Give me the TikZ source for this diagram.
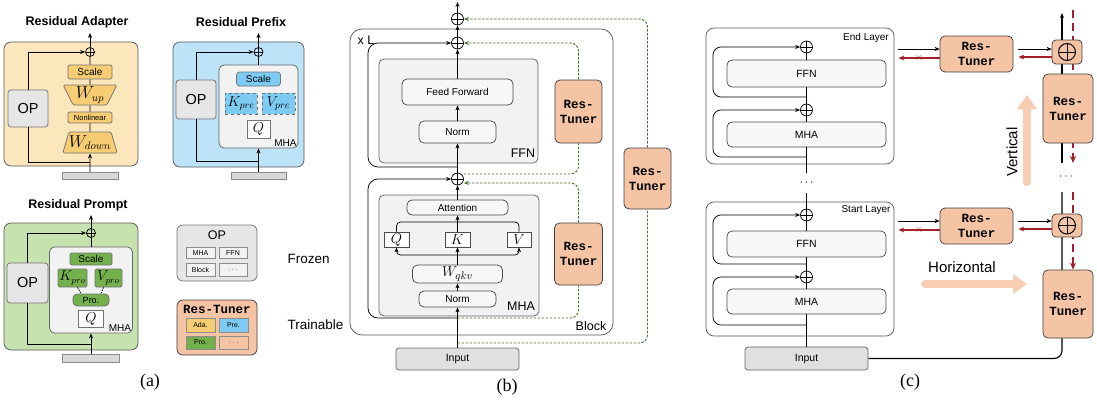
\documentclass[tikz,border=0pt]{standalone}
\usepackage{fontspec}
\setmainfont{Liberation Sans}
\setmonofont{Liberation Mono}
\newfontfamily\capfont{Liberation Serif}
\usepackage{xcolor}
\usetikzlibrary{arrows.meta,shapes.geometric,calc}

\definecolor{adafill}{HTML}{FCE7BD}
\definecolor{adadark}{HTML}{F6CD72}
\definecolor{prefill}{HTML}{BDE3F8}
\definecolor{predark}{HTML}{7DCBF2}
\definecolor{profill}{HTML}{C6E2AF}
\definecolor{prodark}{HTML}{74B04C}
\definecolor{frozen}{HTML}{E6E6E6}
\definecolor{tuner}{HTML}{F5C4A4}
\definecolor{backred}{HTML}{A3202A}
\definecolor{skipgreen}{HTML}{4F6F2F}
\definecolor{bigarrow}{HTML}{F7CDB3}

\newcommand{\fsz}[1]{\fontsize{#1}{#1}\selectfont}

\pgfdeclarelayer{back}
\pgfsetlayers{back,main}

\begin{document}
\begin{tikzpicture}[x=1pt, y=-1pt, line width=0.75pt,
  wh/.style 2 args={minimum width=#1, minimum height=#2},
  arr/.style={-{Stealth[length=5pt,width=4pt]}},
  addop/.style={circle, draw, inner sep=0pt, minimum size=#1,
    path picture={\draw[line width=0.6pt] (path picture bounding box.north) -- (path picture bounding box.south)
      (path picture bounding box.west) -- (path picture bounding box.east);}},
  ttl/.style={font=\fsz{12.5}\bfseries},
  panel/.style={draw=black!65, rounded corners=7pt, inner sep=0pt},
  opbox/.style={draw=black!55, fill=frozen, rounded corners=3pt, inner sep=0pt, font=\fsz{14.5}},
  graybox/.style={draw=black!60, fill=black!5, rounded corners=5pt, inner sep=0pt},
  yel/.style={draw=black!55, fill=adadark, rounded corners=1.5pt, inner sep=0pt},
  blu/.style={draw=black!55, fill=predark, rounded corners=3pt, inner sep=0pt},
  grn/.style={draw=black!55, fill=prodark, rounded corners=1.5pt, inner sep=0pt},
  qbox/.style={draw=black!55, fill=white, inner sep=0pt, font=\fsz{14.5}},
  inbar/.style={draw=black!45, fill=black!15, inner sep=0pt},
  sm/.style={draw=black!45, inner sep=0pt, font=\fsz{7}},
  lyr/.style={draw=black!70, fill=black!3, rounded corners=5pt, inner sep=0pt, font=\fsz{10}},
  mathbox/.style={draw=black!70, fill=white, inner sep=0pt, font=\fsz{15}},
  inbox/.style={draw=black!60, fill=black!12, rounded corners=3pt, inner sep=0pt, font=\fsz{10.5}},
  tunebox/.style={draw=black!75, fill=tuner, rounded corners=5pt, align=center, inner sep=0pt,
    font={\fontsize{12.5}{15}\selectfont\ttfamily\bfseries}},
  lbl/.style={font=\fsz{12.5}, inner sep=0pt},
  captxt/.style={font=\capfont\fsz{18}},
  skipln/.style={draw=skipgreen, line width=0.9pt, dash pattern=on 2.5pt off 1.5pt, rounded corners=8pt},
  redln/.style={draw=backred, line width=1.3pt, dash pattern=on 8pt off 5pt, -{Stealth[length=7pt,width=6pt]}},
  redarr/.style={draw=backred, line width=1.1pt, -{Stealth[length=6pt,width=5pt]}},
  fat/.style={draw=bigarrow, line width=8pt, line cap=round, -{Triangle[width=19pt,length=14pt]}}]
\useasboundingbox (0,0) rectangle (1097,400);

% (a) residual adapter
\node[ttl] (tA) at (77,22) {Residual Adapter};
\node[panel, fill=adafill, wh={134}{124}] (bgA) at (71,104) {};
\node[opbox, wh={40}{37}] (opA) at (28,108.5) {OP};
\node[addop=9] (plA) at (90,52) {};
\node[yel, wh={44}{14}, font=\fsz{10}] (scA) at (90,72) {Scale};
\node[yel, trapezium, shape border rotate=180, trapezium angle=63, trapezium stretches=true,
  wh={54}{20}, font=\fsz{16}] (upA) at (90,95) {$W_{up}$};
\node[yel, wh={44}{11}, font=\fsz{7.5}] (nlA) at (90,117.5) {Nonlinear};
\node[yel, trapezium, trapezium angle=67, trapezium stretches=true,
  wh={54}{21}, font=\fsz{16}] (dnA) at (90,142.5) {$W_{down}$};
\node[inbar, wh={56}{7}] (inA) at (90,176) {};
\coordinate (brA) at (90,162);
\coordinate (oA) at (90,33);
\draw[arr] (inA) -- (dnA);
\draw (dnA) -- (nlA) (nlA) -- (upA) (upA) -- (scA) (scA) -- (plA);
\draw[arr] (plA) -- (oA);
\draw (brA) -| (opA);
\draw[arr] (opA) |- (plA);

% (a) residual prefix
\node[ttl] (tP) at (241,22) {Residual Prefix};
\node[panel, fill=prefill, wh={131}{125}] (bgP) at (238.5,104.5) {};
\node[opbox, wh={40}{39}] (opP) at (196,99.5) {OP};
\node[graybox, wh={79}{83}] (mhP) at (258.5,106.5) {};
\node[font=\fsz{10}, anchor=south east, inner sep=1.5pt] (lmP) at (mhP.south east) {MHA};
\node[blu, wh={44}{14}, font=\fsz{10}] (scP) at (258.5,79) {Scale};
\node[blu, dashed, rounded corners=0pt, wh={32}{21}, font=\fsz{14.5}] (kP) at (241,103.5) {$K_{pre}$};
\node[blu, dashed, rounded corners=0pt, wh={33}{21}, font=\fsz{14.5}] (vP) at (278.5,103.5) {$V_{pre}$};
\node[qbox, wh={23}{18}] (qP) at (258.5,129) {$Q$};
\node[addop=9] (plP) at (258.5,52) {};
\node[inbar, wh={55}{7}] (inP) at (258.5,176) {};
\coordinate (brP) at (258.5,161);
\coordinate (oP) at (258.5,33);
\draw[arr] (inP) -- (mhP);
\draw (mhP) -- (plP);
\draw[arr] (plP) -- (oP);
\draw (brP) -| (opP);
\draw[arr] (opP) |- (plP);

% (a) residual prompt
\node[ttl] (tR) at (78,205) {Residual Prompt};
\node[panel, fill=profill, wh={134}{127}] (bgR) at (71,286.5) {};
\node[opbox, wh={41}{40}] (opR) at (27.5,283) {OP};
\node[graybox, wh={83}{86}] (mhR) at (91,290) {};
\node[font=\fsz{10}, anchor=south east, inner sep=1.5pt] (lmR) at (mhR.south east) {MHA};
\node[grn, wh={42}{12}, font=\fsz{10}] (scR) at (91,259) {Scale};
\node[grn, wh={29}{18}, font=\fsz{13.5}] (kR) at (72.5,278) {$K_{pro}$};
\node[grn, wh={27}{18}, font=\fsz{13.5}] (vR) at (108.5,278) {$V_{pro}$};
\node[grn, rounded corners=4pt, wh={36}{12}, font=\fsz{9}] (prR) at (91,300) {Pro.};
\node[qbox, wh={25}{17}] (qR) at (91,318.5) {$Q$};
\node[addop=9] (plR) at (91,233) {};
\node[inbar, wh={57}{8}] (inR) at (91,358) {};
\coordinate (brR) at (91,344);
\coordinate (oR) at (91,215);
\draw[dash pattern=on 1.5pt off 1pt] ([xshift=5pt]kR.south) -- ([xshift=-10pt]prR.north);
\draw[dash pattern=on 1.5pt off 1pt] ([xshift=-5pt]vR.south) -- ([xshift=10pt]prR.north);
\draw[arr] (inR) -- (mhR);
\draw (mhR) -- (plR);
\draw[arr] (plR) -- (oR);
\draw (brR) -| (opR);
\draw[arr] (opR) |- (plR);

% (a) legend
\node[opbox, rounded corners=6pt, wh={80}{56}] (fzL) at (217,253) {};
\node[font=\fsz{12.5}] (fzT) at (217,235) {OP};
\node[sm, fill=black!5, wh={29}{11}] (fzM) at (200.5,253) {MHA};
\node[sm, fill=black!5, wh={28}{11}] (fzF) at (233,253) {FFN};
\node[sm, fill=black!5, wh={29}{13}] (fzB) at (200.5,269.5) {Block};
\node[sm, fill=black!5, wh={28}{13}] (fzD) at (233,269.5) {$\cdots$};
\node[font=\fsz{13.5}, anchor=west] (fzN) at (284,259) {Frozen};
\node[tunebox, rounded corners=6pt, wh={80}{55}] (tnL) at (217,327.5) {};
\node[font={\fsz{12.5}\ttfamily\bfseries}] (tnT) at (217,309) {Res-Tuner};
\node[sm, fill=adadark, wh={29}{14}] (tnA) at (200.5,325) {Ada.};
\node[sm, fill=predark, wh={29}{14}] (tnP) at (233.5,325) {Pre.};
\node[sm, fill=prodark, wh={29}{13}] (tnR) at (200.5,342.5) {Pro.};
\node[sm, fill=tuner, wh={29}{13}] (tnD) at (233.5,342.5) {$\cdots$};
\node[font=\fsz{13.5}, anchor=west] (tnN) at (284,325) {Trainable};
\node[captxt] (capA) at (150,382) {(a)};

% (b) transformer block with res-tuners
\node[panel, rounded corners=12pt, wh={263}{306}] (blk) at (481.5,182) {};
\node[lbl] (xl) at (366,40) {x L};
\node[lbl] (bl) at (591,326) {Block};
\node[graybox, wh={159}{104}] (ffG) at (458.5,111) {};
\node[lbl] (ffl) at (523,153) {FFN};
\node[lyr, wh={111}{26}] (ffw) at (457.5,92) {Feed Forward};
\node[lyr, wh={77}{22}] (nmF) at (457.5,132) {Norm};
\node[graybox, wh={160}{121}] (mhG) at (459,255.5) {};
\node[lbl] (mhl) at (521,306) {MHA};
\node[lyr, wh={101}{15}] (att) at (457.5,207.5) {Attention};
\node[mathbox, wh={25}{15}] (qN) at (396.5,239.5) {$Q$};
\node[mathbox, wh={25}{15}] (kN) at (457.5,239.5) {$K$};
\node[mathbox, wh={24}{15}] (vN) at (519,239.5) {$V$};
\node[lyr, wh={90}{18}, font=\fsz{15}] (wqkv) at (457.5,274) {$W_{qkv}$};
\node[lyr, wh={77}{16}] (nmM) at (457.5,299) {Norm};
\node[inbox, wh={123}{22}] (inB) at (457.5,359) {Input};
\node[addop=12] (p3) at (457.5,19) {};
\node[addop=12] (p2) at (457.5,43) {};
\node[addop=12] (p1) at (457.5,179) {};
\node[tunebox, wh={47}{63}] (rtF) at (578.5,111.5) {Res-\\Tuner};
\node[tunebox, wh={48}{62}] (rtM) at (578.5,254) {Res-\\Tuner};
\node[tunebox, wh={47}{61}] (rtB) at (647.5,178.5) {Res-\\Tuner};
\coordinate (oB) at (457.5,2);
\coordinate (sp) at (457.5,255);
\coordinate (jn) at (457.5,222);
\coordinate (bF) at (457.5,167);
\coordinate (bM) at (457.5,318);
\coordinate (bI) at (457.5,343);
\draw[arr] (inB) -- (nmM);
\draw[arr] (nmM) -- (wqkv);
\draw[arr] (wqkv) -- (kN);
\draw[arr, rounded corners=4pt] (sp) -| (qN);
\draw[arr, rounded corners=4pt] (sp) -| (vN);
\draw[rounded corners=4pt] (qN) |- (jn) -| (vN);
\draw[arr] (kN) -- (att);
\draw[arr] (att) -- (p1);
\draw[arr] (p1) -- (nmF);
\draw[arr] (nmF) -- (ffw);
\draw[arr] (ffw) -- (p2);
\draw[arr] (p2) -- (p3);
\draw[arr] (p3) -- (oB);
\draw[arr, rounded corners=10pt] (bF) -- (368,167) -- (368,43) -- (p2);
\draw[arr, rounded corners=10pt] (bM) -- (368,318) -- (368,179) -- (p1);
\draw[skipln] (bI) -| (rtB);
\draw[skipln, arr] (rtB) |- (p3);
\draw[skipln] ([yshift=5pt]p1.east) -| (rtF);
\draw[skipln, arr] (rtF) |- (p2);
\draw[skipln] (bM) -| (rtM);
\draw[skipln, arr] (rtM) |- ([yshift=-4pt]p1.east);
\node[captxt] (capB) at (507,387) {(b)};

% (c) horizontal and vertical res-tuners
\node[panel, wh={188}{136}, rounded corners=8pt] (endL) at (800,96) {};
\node[font=\fsz{10}] (endT) at (866,38) {End Layer};
\node[lyr, wh={159}{27}, font=\fsz{10.5}] (ffE) at (806.5,73.5) {FFN};
\node[lyr, wh={159}{25}, font=\fsz{10.5}] (mhE) at (806.5,134.5) {MHA};
\node[addop=12] (pE1) at (806.5,47) {};
\node[addop=12] (pE2) at (806.5,110) {};
\coordinate (sE1) at (806.5,97);
\coordinate (sE2) at (806.5,157);
\coordinate (dE) at (806.5,173);
\draw (dE) -- (mhE);
\draw (mhE) -- (pE2);
\draw (pE2) -- (ffE);
\draw (ffE) -- (pE1);
\draw[arr, rounded corners=8pt] (sE1) -- (713,97) -- (713,47) -- (pE1);
\draw[arr, rounded corners=8pt] (sE2) -- (713,157) -- (713,110) -- (pE2);
\node[font=\fsz{12}] (dots1) at (806.5,183) {$\cdots$};

\node[panel, wh={188}{134}, rounded corners=8pt] (stL) at (800,269) {};
\node[font=\fsz{10}] (stT) at (866,210) {Start Layer};
\node[lyr, wh={159}{26}, font=\fsz{10.5}] (ffS) at (806.5,244) {FFN};
\node[lyr, wh={159}{25}, font=\fsz{10.5}] (mhS) at (806.5,301.5) {MHA};
\node[addop=12] (pS1) at (806.5,215) {};
\node[addop=12] (pS2) at (806.5,277) {};
\node[inbox, wh={123}{23}] (inC) at (806.5,358.5) {Input};
\coordinate (sS1) at (806.5,264);
\coordinate (sS2) at (806.5,325);
\coordinate (uS) at (806.5,193);
\draw (uS) -- (pS1);
\draw (ffS) -- (pS1);
\draw (pS2) -- (ffS);
\draw (mhS) -- (pS2);
\draw (inC) -- (mhS);
\draw[arr, rounded corners=8pt] (sS1) -- (713,264) -- (713,215) -- (pS1);
\draw[arr, rounded corners=8pt] (sS2) -- (713,325) -- (713,277) -- (pS2);

\node[tunebox, wh={73}{36}] (rtE) at (976.5,54) {Res-\\Tuner};
\node[tunebox, wh={73}{36}] (rtS) at (976.5,226) {Res-\\Tuner};
\node[tunebox, rounded corners=4pt, wh={30}{24}] (pbE) at (1067,52) {};
\node[addop=17, line width=1pt] (pcE) at (1067,52) {};
\node[tunebox, rounded corners=4pt, wh={30}{23}] (pbS) at (1067,225.5) {};
\node[addop=17, line width=1pt] (pcS) at (1067,225.5) {};
\node[tunebox, wh={50}{69}] (rtV) at (1068,108.5) {Res-\\Tuner};
\node[tunebox, wh={50}{68}] (rtH) at (1068,304) {Res-\\Tuner};
\node[font=\fsz{12}] (dots2) at (1066,177) {$\cdots$};

\coordinate (cT) at (1062,13);
\coordinate (cM) at (1062,163);
\coordinate (cM2) at (1062,192);
\coordinate (rT) at (1073,10);
\coordinate (rM) at (1073,163);
\coordinate (rM2) at (1073,192);
\begin{pgfonlayer}{back}
\draw[arr, line width=1.1pt] (cM) -- (cT);
\draw[rounded corners=8pt, line width=1.1pt] (cM2) |- (inC);
\draw[redln] (rT) -- (rM);
\draw[redln] (rM2) -- (rM2 |- rtH.north);
\end{pgfonlayer}

\foreach \rt/\ly/\pb in {rtE/endL/pbE, rtS/stL/pbS} {
  \coordinate (ha) at ($(\rt.west)+(0,-5)$);
  \coordinate (hb) at ($(\rt.west)+(0,4)$);
  \coordinate (hc) at ($(\rt.east)+(5,-5)$);
  \coordinate (hd) at ($(\rt.east)+(5,3)$);
  \draw[arr] ($(\ly.east |- ha)+(4,0)$) -- (ha);
  \draw[redarr] (hb) -- ($(\ly.east |- hb)+(4,0)$) node[midway, text=backred, font=\fsz{10}] (x\rt) {$\times$};
  \draw[arr] (hc) -- (\pb.west |- hc);
  \draw[redarr] (\pb.west |- hd) -- (hd);
}

\coordinate (vtS) at (1027,182);
\coordinate (vtE) at (1027,95);
\coordinate (hzS) at (925,284);
\coordinate (hzE) at (1027,284);
\draw[fat] (vtS) -- (vtE);
\draw[fat] (hzS) -- (hzE);
\node[font=\fsz{15}, rotate=90] (vtT) at (1012,152) {Vertical};
\node[font=\fsz{15}] (hzT) at (962,267) {Horizontal};
\node[captxt] (capC) at (910,382) {(c)};
\end{tikzpicture}
\end{document}
